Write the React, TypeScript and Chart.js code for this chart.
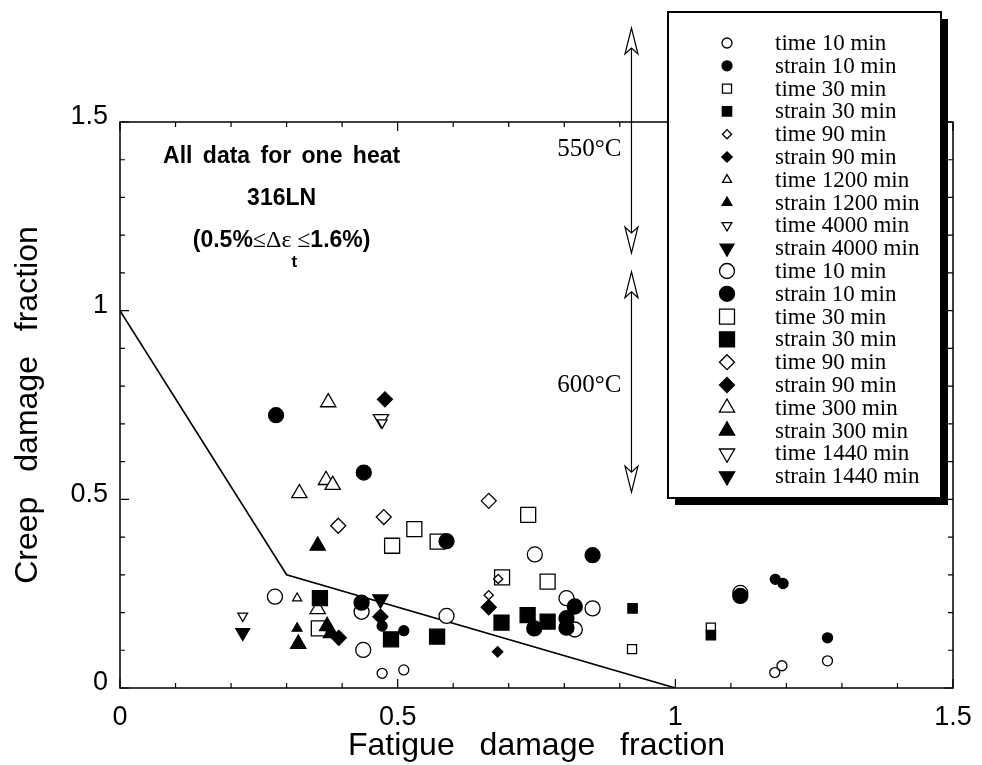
import React, { useEffect, useRef } from 'react';
import { Chart, registerables } from 'chart.js';
import { drawPoint } from 'chart.js/helpers';

Chart.register(...registerables);

// ---------------- Data ----------------
const LABELS_550 = [
  'time 10 min', 'strain 10 min', 'time 30 min', 'strain 30 min', 'time 90 min',
  'strain 90 min', 'time 1200 min', 'strain 1200 min', 'time 4000 min', 'strain 4000 min',
];
const LABELS_600 = [
  'time 10 min', 'strain 10 min', 'time 30 min', 'strain 30 min', 'time 90 min',
  'strain 90 min', 'time 300 min', 'strain 300 min', 'time 1440 min', 'strain 1440 min',
];

// 550°C (small symbols): [fatigue, creep]
const T550_TIME_10 = [[0.472, 0.039], [0.511, 0.048], [1.179, 0.041], [1.192, 0.059], [1.274, 0.072]];
const T550_STRAIN_10 = [[0.472, 0.164], [0.511, 0.152], [1.180, 0.288], [1.194, 0.277], [1.274, 0.133]];
const T550_TIME_30 = [[0.922, 0.103], [1.064, 0.160]];
const T550_STRAIN_30 = [[0.923, 0.211], [1.064, 0.140]];
const T550_TIME_90 = [[0.681, 0.289], [0.664, 0.246]];
const T550_STRAIN_90 = [[0.680, 0.096]];
const T550_TIME_1200 = [[0.319, 0.238]];
const T550_STRAIN_1200 = [[0.319, 0.158]];
const T550_TIME_4000 = [[0.221, 0.191], [0.472, 0.703]];
const T550_STRAIN_4000 = [[0.221, 0.147]];

// 600°C (large symbols): [fatigue, creep]
const T600_TIME_10 = [[0.279, 0.242], [0.435, 0.202], [0.438, 0.101], [0.588, 0.191], [0.747, 0.354], [0.804, 0.238], [0.851, 0.211], [0.819, 0.155], [1.117, 0.252]];
const T600_STRAIN_10 = [[0.281, 0.723], [0.439, 0.571], [0.588, 0.389], [0.851, 0.352], [0.435, 0.226], [0.819, 0.216], [0.746, 0.158], [0.804, 0.185], [0.804, 0.160], [1.117, 0.244]];
const T600_TIME_30 = [[0.530, 0.421], [0.490, 0.377], [0.572, 0.388], [0.735, 0.459], [0.688, 0.293], [0.770, 0.282], [0.358, 0.158]];
const T600_STRAIN_30 = [[0.360, 0.238], [0.488, 0.129], [0.571, 0.136], [0.687, 0.173], [0.734, 0.193], [0.770, 0.176]];
const T600_TIME_90 = [[0.393, 0.430], [0.475, 0.453], [0.664, 0.496]];
const T600_STRAIN_90 = [[0.477, 0.765], [0.469, 0.189], [0.394, 0.133], [0.664, 0.214]];
const T600_TIME_300 = [[0.375, 0.757], [0.371, 0.551], [0.383, 0.538], [0.323, 0.516], [0.356, 0.209]];
const T600_STRAIN_300 = [[0.356, 0.377], [0.321, 0.117], [0.373, 0.164], [0.380, 0.145]];
const T600_TIME_1440 = [[0.470, 0.713]];
const T600_STRAIN_1440 = [[0.469, 0.235]];

// Linear damage-interaction envelope
const ENVELOPE_X = [0, 0.3, 1];
const ENVELOPE_Y = [1, 0.3, 0];

const AXIS_MIN = 0;
const AXIS_MAX = 1.5;
const MAJOR_STEP = 0.5;

const X_TITLE = 'Fatigue damage fraction';
const Y_TITLE = 'Creep damage fraction';
const HEADING = ['All data for one heat', '316LN'];
const TEMP_TEXT = ['550°C', '600°C'];

// ---------------- Annotation placement (data units) ----------------
const HEAD_X = 0.291;
const HEAD_Y = [1.408, 1.296, 1.185];
const ARROW_X = 0.921;
const ARROW_SPANS = [[1.749, 1.153], [1.103, 0.519]];
const TEMP_X = 0.845;
const TEMP_Y = [1.428, 0.803];

// ---------------- Styles ----------------
const SHAPES = ['circle', 'circle', 'rect', 'rect', 'rectRot', 'rectRot', 'triangle', 'triangle', 'triangle', 'triangle'];
const ROTATIONS = [0, 0, 0, 0, 0, 0, 0, 0, 180, 180];
const RADII_550 = [5, 5, 6.4, 6.6, 4.6, 5.2, 5.2, 5.6, 5.6, 8];
const RADII_600 = [7.5, 7.5, 10.6, 10.6, 7.5, 7.5, 8.8, 8.8, 8.8, 8.8];

const DATA_550 = [T550_TIME_10, T550_STRAIN_10, T550_TIME_30, T550_STRAIN_30, T550_TIME_90, T550_STRAIN_90, T550_TIME_1200, T550_STRAIN_1200, T550_TIME_4000, T550_STRAIN_4000];
const DATA_600 = [T600_TIME_10, T600_STRAIN_10, T600_TIME_30, T600_STRAIN_30, T600_TIME_90, T600_STRAIN_90, T600_TIME_300, T600_STRAIN_300, T600_TIME_1440, T600_STRAIN_1440];

const LEG = { left: 668, top: 12, right: 941, bottom: 498, shadow: 7, markerX: 727, textX: 775, row0: 43, rowH: 22.8 };

function makeDataset(label: string, pts: number[][], i: number, radius: number, group: string) {
  const filled = i % 2 === 1;
  const fill = filled ? '#000' : '#fff';
  return {
    label,
    group,
    data: pts.map(([x, y]) => ({ x, y })),
    pointStyle: SHAPES[i],
    pointRotation: ROTATIONS[i],
    rotation: ROTATIONS[i],
    pointRadius: radius,
    pointHoverRadius: radius,
    pointBackgroundColor: fill,
    backgroundColor: fill,
    pointBorderColor: '#000',
    borderColor: '#000',
    pointBorderWidth: 1.3,
    borderWidth: 1.3,
    showLine: false,
    order: filled ? 0 : 1,
  };
}

const spacingPlugin = {
  id: 'spacing',
  beforeDraw(chart: any) {
    (chart.ctx as any).wordSpacing = '16px';
  },
  beforeDatasetsDraw(chart: any) {
    (chart.ctx as any).wordSpacing = '0px';
  },
};

const framePlugin = {
  id: 'frame',
  beforeDatasetsDraw(chart: any) {
    const { ctx, chartArea: a, scales } = chart;
    const xs = scales.x;
    const ys = scales.y;
    ctx.save();
    ctx.strokeStyle = '#000';
    ctx.lineWidth = 1.5;
    ctx.strokeRect(a.left, a.top, a.right - a.left, a.bottom - a.top);
    ctx.lineWidth = 1.2;
    ctx.beginPath();
    const n = Math.round((AXIS_MAX - AXIS_MIN) / 0.1);
    for (let i = 0; i <= n; i++) {
      const v = AXIS_MIN + i * 0.1;
      const L = i % 5 === 0 ? 9 : 5;
      const px = xs.getPixelForValue(v);
      const py = ys.getPixelForValue(v);
      ctx.moveTo(px, a.bottom); ctx.lineTo(px, a.bottom - L);
      ctx.moveTo(px, a.top); ctx.lineTo(px, a.top + L);
      ctx.moveTo(a.left, py); ctx.lineTo(a.left + L, py);
      ctx.moveTo(a.right, py); ctx.lineTo(a.right - L, py);
    }
    ctx.stroke();
    ctx.restore();
  },
};

function arrowHead(ctx: CanvasRenderingContext2D, x: number, tip: number, dir: number) {
  const L = 26, W = 6.5, notch = 6;
  ctx.beginPath();
  ctx.moveTo(x, tip);
  ctx.lineTo(x - W, tip + dir * L);
  ctx.lineTo(x, tip + dir * (L - notch));
  ctx.lineTo(x + W, tip + dir * L);
  ctx.closePath();
  ctx.fillStyle = '#fff';
  ctx.fill();
  ctx.stroke();
}

const annotationPlugin = {
  id: 'annotations',
  afterDraw(chart: any) {
    const { ctx, scales } = chart;
    const xs = scales.x;
    const ys = scales.y;
    ctx.save();
    ctx.fillStyle = '#000';
    ctx.strokeStyle = '#000';

    // Heading
    const hx = xs.getPixelForValue(HEAD_X);
    ctx.textAlign = 'center';
    ctx.textBaseline = 'middle';
    ctx.font = 'bold 23px "Liberation Sans", Arial, sans-serif';
    (ctx as any).wordSpacing = '4px';
    ctx.fillText(HEADING[0], hx, ys.getPixelForValue(HEAD_Y[0]));
    (ctx as any).wordSpacing = '0px';
    ctx.fillText(HEADING[1], hx, ys.getPixelForValue(HEAD_Y[1]));

    // Third heading line with subscript
    const segs = [
      { t: '(0.5%', f: 'bold 23px "Liberation Sans", Arial, sans-serif', dy: 0 },
      { t: '≤Δε', f: '24px "Liberation Serif", "Times New Roman", serif', dy: 0 },
      { t: 't', f: 'bold 17px "Liberation Sans", Arial, sans-serif', dy: 21 },
      { t: '≤', f: '24px "Liberation Serif", "Times New Roman", serif', dy: 0 },
      { t: '1.6%)', f: 'bold 23px "Liberation Sans", Arial, sans-serif', dy: 0 },
    ];
    let total = 0;
    const widths = segs.map((s) => { ctx.font = s.f; const w = ctx.measureText(s.t).width; total += w; return w; });
    let cx = hx - total / 2;
    const y3 = ys.getPixelForValue(HEAD_Y[2]);
    ctx.textAlign = 'left';
    segs.forEach((s, i) => {
      ctx.font = s.f;
      ctx.fillText(s.t, cx, y3 + s.dy);
      cx += widths[i];
    });

    // Temperature range arrows
    const ax = xs.getPixelForValue(ARROW_X);
    ctx.lineWidth = 1.2;
    ARROW_SPANS.forEach(([hi, lo]) => {
      const top = ys.getPixelForValue(hi);
      const bot = ys.getPixelForValue(lo);
      ctx.beginPath();
      ctx.moveTo(ax, top + 20);
      ctx.lineTo(ax, bot - 20);
      ctx.stroke();
      arrowHead(ctx, ax, top, 1);
      arrowHead(ctx, ax, bot, -1);
    });
    ctx.fillStyle = '#000';
    ctx.textAlign = 'center';
    ctx.font = '25px "Liberation Serif", "Times New Roman", serif';
    TEMP_TEXT.forEach((t, i) => {
      ctx.fillText(t, xs.getPixelForValue(TEMP_X), ys.getPixelForValue(TEMP_Y[i]));
    });

    // Legend box with drop shadow
    ctx.fillStyle = '#000';
    ctx.fillRect(LEG.left + LEG.shadow, LEG.top + LEG.shadow, LEG.right - LEG.left, LEG.bottom - LEG.top);
    ctx.fillStyle = '#fff';
    ctx.fillRect(LEG.left, LEG.top, LEG.right - LEG.left, LEG.bottom - LEG.top);
    ctx.lineWidth = 2;
    ctx.strokeStyle = '#000';
    ctx.strokeRect(LEG.left, LEG.top, LEG.right - LEG.left, LEG.bottom - LEG.top);

    const dsList = chart.data.datasets.filter((d: any) => d.group);
    ctx.font = '23px "Liberation Serif", "Times New Roman", serif';
    ctx.textAlign = 'left';
    ctx.textBaseline = 'middle';
    dsList.forEach((d: any, i: number) => {
      const y = LEG.row0 + i * LEG.rowH;
      ctx.fillStyle = d.pointBackgroundColor;
      ctx.strokeStyle = '#000';
      ctx.lineWidth = d.pointBorderWidth;
      drawPoint(ctx, { pointStyle: d.pointStyle, rotation: d.pointRotation, radius: d.pointRadius, borderWidth: d.pointBorderWidth }, LEG.markerX, y);
      ctx.fillStyle = '#000';
      ctx.fillText(d.label, LEG.textX, y + 1);
    });
    ctx.restore();
  },
};

const formatTick = (v: any) => String(Number(v));

export default function App() {
  const ref = useRef<HTMLCanvasElement>(null);
  useEffect(() => {
    document.body.style.margin = '0';
    const canvas = ref.current;
    if (!canvas) return;
    const datasets: any[] = [];
    DATA_550.forEach((pts, i) => datasets.push(makeDataset(LABELS_550[i], pts, i, RADII_550[i], '550')));
    DATA_600.forEach((pts, i) => datasets.push(makeDataset(LABELS_600[i], pts, i, RADII_600[i], '600')));
    datasets.push({
      type: 'line',
      label: 'envelope',
      data: ENVELOPE_X.map((x, i) => ({ x, y: ENVELOPE_Y[i] })),
      borderColor: '#000',
      borderWidth: 1.6,
      pointRadius: 0,
      fill: false,
      showLine: true,
      tension: 0,
      order: 2,
    });

    const tickFont = { family: '"Liberation Sans", Arial, sans-serif', size: 27 };
    const titleFont = { family: '"Liberation Sans", Arial, sans-serif', size: 32 };

    const chart = new Chart(canvas, {
      type: 'scatter',
      data: { datasets },
      options: {
        responsive: false,
        animation: false,
        events: [],
        layout: { padding: { left: 0, top: 122, right: 29, bottom: 0 } },
        plugins: { legend: { display: false }, tooltip: { enabled: false } },
        scales: {
          x: {
            type: 'linear',
            min: AXIS_MIN,
            max: AXIS_MAX,
            grid: { display: false, drawTicks: false },
            border: { display: false },
            ticks: { stepSize: MAJOR_STEP, color: '#000', font: tickFont, padding: 13, callback: formatTick },
            title: { display: true, text: X_TITLE, color: '#000', font: titleFont, padding: { top: 0, bottom: 0 } },
            afterFit: (s: any) => { s.height = 77; s.paddingLeft = 0; s.paddingRight = 0; },
          },
          y: {
            type: 'linear',
            min: AXIS_MIN,
            max: AXIS_MAX,
            grid: { display: false, drawTicks: false },
            border: { display: false },
            ticks: { stepSize: MAJOR_STEP, color: '#000', font: tickFont, padding: 12, labelOffset: -5, callback: formatTick },
            title: { display: true, text: Y_TITLE, color: '#000', font: titleFont, padding: { top: 9, bottom: 0 } },
            afterFit: (s: any) => { s.width = 120; s.paddingTop = 0; s.paddingBottom = 0; },
          },
        },
      } as any,
      plugins: [spacingPlugin, framePlugin, annotationPlugin],
    });
    return () => chart.destroy();
  }, []);

  return (
    <div style={{ width: 982, height: 765, position: 'relative', background: '#fff' }}>
      <canvas ref={ref} width={982} height={765} style={{ display: 'block' }} />
    </div>
  );
}
